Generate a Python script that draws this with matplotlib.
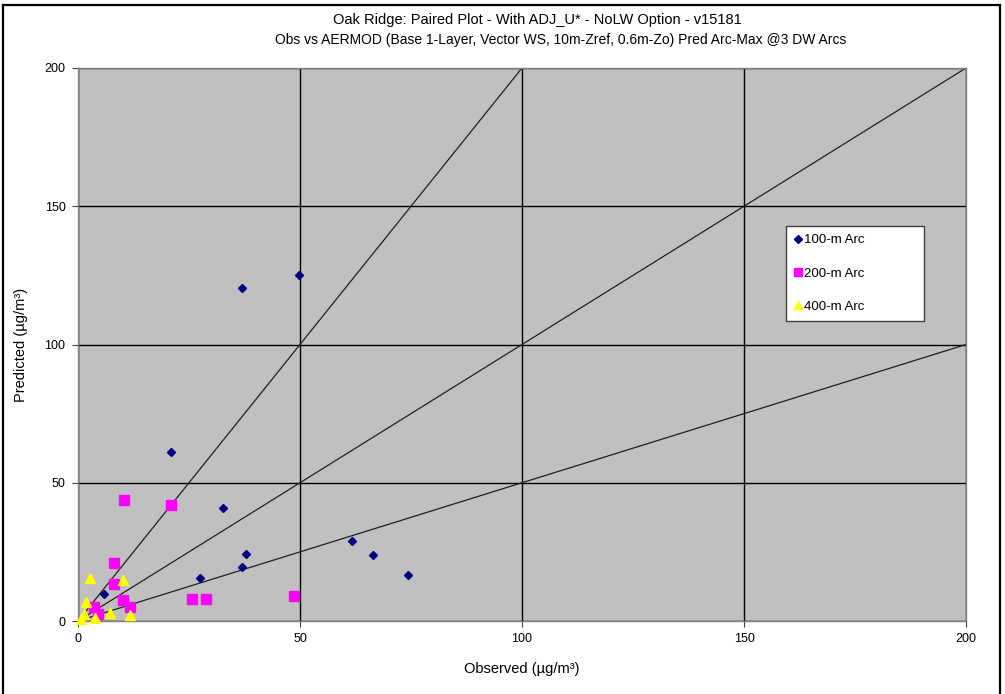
import matplotlib
matplotlib.use("Agg")
import matplotlib.pyplot as plt
from matplotlib.lines import Line2D

plt.rcParams['font.family'] = ['Liberation Sans', 'DejaVu Sans']

# Observed / predicted arc-maximum concentrations (ug/m3)
obs_100 = [36.9, 49.8, 20.9, 32.7, 37.8, 36.9, 27.5, 61.6, 66.5, 74.4, 5.9]
pred_100 = [120.5, 125.0, 61.1, 41.0, 24.3, 19.7, 15.4, 29.0, 24.0, 16.8, 9.8]

obs_200 = [10.4, 21.0, 8.1, 8.1, 10.1, 11.8, 25.6, 28.9, 48.6, 3.6, 4.4]
pred_200 = [43.6, 42.0, 21.1, 13.4, 7.7, 5.1, 7.8, 7.8, 9.0, 5.2, 2.4]

obs_400 = [2.6, 10.2, 1.7, 7.3, 11.8, 3.9, 1.4, 0.7]
pred_400 = [15.4, 14.8, 6.8, 2.8, 2.2, 1.1, 2.6, 0.6]

# Reference ratio lines (factor-of-two envelope and 1:1)
ratios = [2.0, 1.0, 0.5]
axis_max = 200
ticks = [0, 50, 100, 150, 200]

fig = plt.figure(figsize=(10.05, 6.94), dpi=100)
ax = fig.add_axes([78 / 1005, 1 - 621 / 694, (966 - 78) / 1005, (621 - 68) / 694])
ax.set_facecolor('#C0C0C0')

ax.set_xlim(0, axis_max)
ax.set_ylim(0, axis_max)
ax.set_xticks(ticks)
ax.set_yticks(ticks)
ax.grid(True, color='black', linewidth=1.0)
ax.set_axisbelow(True)

for r in ratios:
    x_end = min(axis_max, axis_max / r)
    ax.plot([0, x_end], [0, r * x_end], color='#202020', linewidth=0.9, zorder=2)

ax.plot(obs_100, pred_100, linestyle='none', marker='D', markersize=4.5,
        color='#000080', label='100-m Arc', zorder=4, clip_on=False)
ax.plot(obs_200, pred_200, linestyle='none', marker='s', markersize=6.5,
        color='#FF00FF', label='200-m Arc', zorder=3, clip_on=False)
ax.plot(obs_400, pred_400, linestyle='none', marker='^', markersize=7,
        color='#FFFF00', label='400-m Arc', zorder=5, clip_on=False)

for s in ax.spines.values():
    s.set_color('#808080')
    s.set_linewidth(1.0)
ax.tick_params(direction='out', length=4, width=0.8, color='#404040',
               labelsize=9, pad=5)

ax.set_xlabel('Observed (µg/m³)', fontsize=10.5, labelpad=12)
ax.set_ylabel('Predicted (µg/m³)', fontsize=10.5, labelpad=12)

fig.text(0.535, 1 - 20 / 694,
         'Oak Ridge: Paired Plot - With ADJ_U* - NoLW Option - v15181',
         ha='center', va='center', fontsize=10.5)
fig.text(0.558, 1 - 40 / 694,
         'Obs vs AERMOD (Base 1-Layer, Vector WS, 10m-Zref, 0.6m-Zo) Pred Arc-Max @3 DW Arcs',
         ha='center', va='center', fontsize=10)

legend_handles = [
    Line2D([], [], linestyle='none', marker='D', markersize=4, color='#000080'),
    Line2D([], [], linestyle='none', marker='s', markersize=6, color='#FF00FF'),
    Line2D([], [], linestyle='none', marker='^', markersize=6, color='#FFFF00'),
]
leg = ax.legend(legend_handles, ['100-m Arc', '200-m Arc', '400-m Arc'],
                loc='upper left', mode='expand',
                bbox_to_anchor=((786 - 78) / 888, (621 - 318) / 553,
                                (924 - 786) / 888, (318 - 226) / 553),
                frameon=True, fancybox=False, fontsize=9.5, handlelength=0.6,
                handletextpad=0.2, labelspacing=1.6, borderpad=0.6,
                borderaxespad=0)
leg.get_frame().set_edgecolor('#404040')
leg.get_frame().set_linewidth(1.0)
leg.get_frame().set_facecolor('white')
leg.get_frame().set_alpha(1)

# Chart border
for xs, ys in [([3 / 1005, 3 / 1005], [0, 1 - 5 / 694]),
               ([3 / 1005, 1000 / 1005], [1 - 5 / 694, 1 - 5 / 694]),
               ([1000 / 1005, 1000 / 1005], [0, 1 - 5 / 694])]:
    fig.add_artist(Line2D(xs, ys, color='black', linewidth=1.6,
                          transform=fig.transFigure))

fig.savefig('out.png', dpi=100, facecolor='white')
